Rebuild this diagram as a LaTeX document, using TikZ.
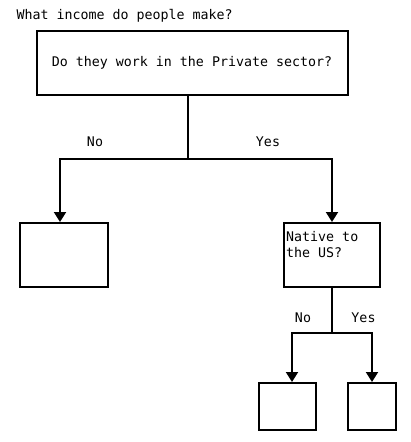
\documentclass[tikz,border=0pt]{standalone}
\usepackage{fontspec}
\setmonofont{DejaVu Sans Mono}
\usetikzlibrary{positioning,arrows.meta}

\begin{document}
\begin{tikzpicture}[x=1pt, y=-1pt, font=\ttfamily\fontsize{13.3}{16}\selectfont]
            \tikzstyle{box} = [draw=black, line width=2pt, inner sep=0pt];
            \tikzstyle{line} = [line width=2pt, line cap=rect];
            \tikzstyle{arrow} = [line width=2pt, -{Triangle[width=12pt, length=10pt]}];
            \useasboundingbox (0,0) rectangle (410,442);

            \node [anchor=base west] (title) at (13,19) {What income do people make?};

            \node [box, minimum width=311pt, minimum height=64pt] (Q1) at (192,63) {Do they work in the Private sector?\hspace{6pt}};

            \node [box, minimum width=88pt, minimum height=64pt] (N1) at (64,255) {};
            \node [box, minimum width=96pt, minimum height=64pt,
                   label={[anchor=north west, align=left, inner xsep=3pt, inner ysep=9pt]north west:Native to\\the US?}] (Q2) at (332,255) {};

            \node [box, minimum width=57pt, minimum height=47pt] (N2) at (287.5,406.5) {};
            \node [box, minimum width=48pt, minimum height=47pt] (Y2) at (372,406.5) {};

            \coordinate (J1) at (188,159);
            \coordinate (J2) at (332,333);

            \node [anchor=base] (L1) at (95,146.5) {No};
            \node [anchor=base] (L2) at (268,146.5) {Yes};
            \node [anchor=base] (L3) at (303,322.5) {No};
            \node [anchor=base] (L4) at (363.5,322.5) {Yes};

            \draw [line] ([xshift=-4pt]Q1.south) to (J1);
            \draw [arrow] (J1) -| ([xshift=-4pt]N1.north);
            \draw [arrow] (J1) -| (Q2.north);
            \draw [line] (Q2.south) to (J2);
            \draw [arrow] (J2) -| ([xshift=4.5pt]N2.north);
            \draw [arrow] (J2) -| (Y2.north);
        \end{tikzpicture}
\end{document}
